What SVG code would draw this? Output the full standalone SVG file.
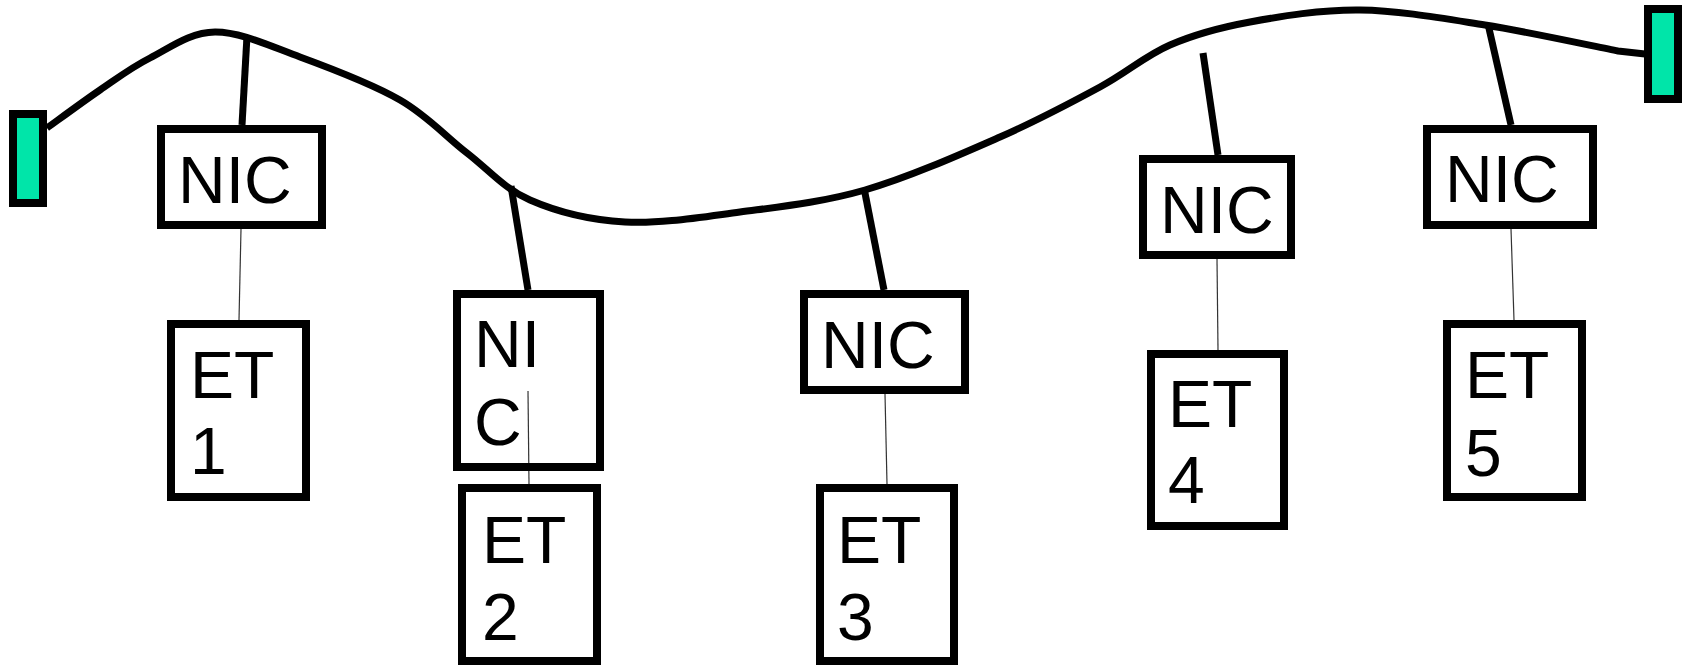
<svg xmlns="http://www.w3.org/2000/svg" width="1683" height="665" viewBox="0 0 1683 665">
<style>
.box{fill:#fff;stroke:#000;stroke-width:8}
.term{fill:#00E5A9;stroke:#000;stroke-width:8}
.lbl{font-family:"Liberation Sans",Arial,sans-serif;font-size:66px;fill:#000}
.bus{fill:none;stroke:#000;stroke-width:7;stroke-linejoin:round}
.drop{stroke:#000;stroke-width:7}
.thin{stroke:#333;stroke-width:1.2}
</style>
<rect width="1683" height="665" fill="#fff"/>
<g id="connectors">
<path class="bus" d="M47,128 C55.8,121.7 82.8,101.7 100,90 C117.2,78.3 130.8,67.7 150,58 C169.2,48.3 190,32.2 215,32 C240,31.8 269.2,45.7 300,57 C330.8,68.3 372.2,84 400,100 C427.8,116 445.3,136.3 467,153 C488.7,169.7 503.7,188.5 530,200 C556.3,211.5 590,220 625,222 C660,224 700,217.3 740,212 C780,206.7 821.7,202.5 865,190 C908.3,177.5 960.8,154.2 1000,137 C1039.2,119.8 1071.7,102.3 1100,87 C1128.3,71.7 1145,55.8 1170,45 C1195,34.2 1218.3,27.8 1250,22 C1281.7,16.2 1320.8,9.5 1360,10 C1399.2,10.5 1442,18.2 1485,25 C1528,31.8 1595.8,46.7 1618,51 L1645,54"/>
<line class="drop" x1="247" y1="36" x2="242" y2="125"/>
<line class="drop" x1="511" y1="186" x2="528" y2="290"/>
<line class="drop" x1="864" y1="188" x2="884" y2="290"/>
<line class="drop" x1="1203" y1="53" x2="1218" y2="155"/>
<line class="drop" x1="1488" y1="24" x2="1511" y2="125"/>
<line class="thin" x1="241" y1="229" x2="239" y2="320"/>
<line class="thin" x1="528" y1="391" x2="529" y2="484"/>
<line class="thin" x1="885" y1="394" x2="887" y2="484"/>
<line class="thin" x1="1217" y1="259" x2="1218" y2="350"/>
<line class="thin" x1="1511" y1="229" x2="1514" y2="320"/>
</g>
<g id="term-left"><rect class="term" x="13" y="114" width="30" height="89"/></g>
<g id="term-right"><rect class="term" x="1648" y="9" width="30" height="90"/></g>
<g id="nic1"><rect class="box" x="161" y="129" width="161" height="96"/><text class="lbl" x="178" y="203">NIC</text></g>
<g id="nic2"><rect class="box" x="457" y="294" width="143" height="173" fill-opacity="0"/><text class="lbl" x="474" y="367">NI</text><text class="lbl" x="474" y="445">C</text></g>
<g id="nic3"><rect class="box" x="804" y="294" width="161" height="96"/><text class="lbl" x="821" y="368">NIC</text></g>
<g id="nic4"><rect class="box" x="1143" y="159" width="148" height="96"/><text class="lbl" x="1160" y="233">NIC</text></g>
<g id="nic5"><rect class="box" x="1427" y="129" width="166" height="96"/><text class="lbl" x="1445" y="202">NIC</text></g>
<g id="et1"><rect class="box" x="171" y="324" width="135" height="173"/><text class="lbl" x="190" y="398">ET</text><text class="lbl" x="190" y="474">1</text></g>
<g id="et2"><rect class="box" x="462" y="488" width="135" height="173"/><text class="lbl" x="482" y="563">ET</text><text class="lbl" x="482" y="640">2</text></g>
<g id="et3"><rect class="box" x="820" y="488" width="134" height="173"/><text class="lbl" x="837" y="563">ET</text><text class="lbl" x="837" y="640">3</text></g>
<g id="et4"><rect class="box" x="1151" y="354" width="133" height="172"/><text class="lbl" x="1168" y="427">ET</text><text class="lbl" x="1168" y="503">4</text></g>
<g id="et5"><rect class="box" x="1447" y="324" width="135" height="173"/><text class="lbl" x="1465" y="398">ET</text><text class="lbl" x="1465" y="476">5</text></g>
</svg>
